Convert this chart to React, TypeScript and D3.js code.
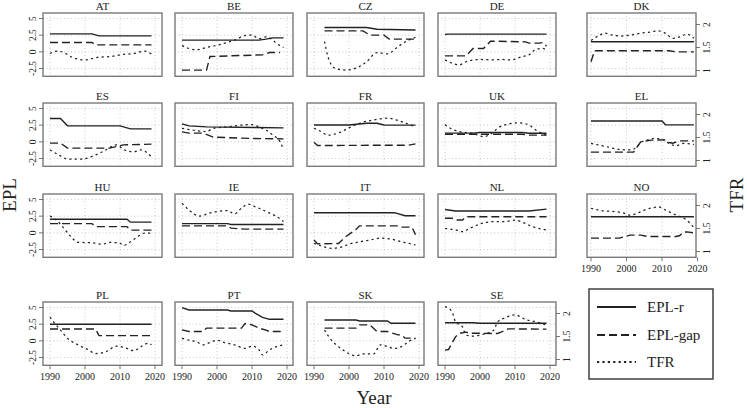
import React from "react";
import * as d3 from "d3";

type P = [number, number][];

// ---- data (year, value) ----
const AT_R: P = [[1990,2.7],[2002,2.7],[2004,2.4],[2019,2.4]];
const AT_G: P = [[1990,1.4],[2002,1.4],[2003,1.05],[2019,1.05]];
const AT_T: P = [[1990,1.37],[1992,1.42],[1994,1.39],[1996,1.30],[2000,1.23],[2004,1.29],[2007,1.30],[2011,1.35],[2014,1.37],[2017,1.42],[2019,1.36]];

const BE_R: P = [[1990,1.75],[2012,1.75],[2014,1.9],[2016,2.1],[2019,2.1]];
const BE_G: P = [[1990,-2.75],[1997,-2.75],[1998,-0.7],[2013,-0.45],[2015,-0.1],[2018,-0.1]];
const BE_T: P = [[1990,1.54],[1994,1.45],[1997,1.50],[2001,1.57],[2005,1.66],[2008,1.76],[2010,1.77],[2012,1.69],[2014,1.73],[2016,1.66],[2017,1.59],[2019,1.50]];

const CZ_R: P = [[1993,3.65],[2005,3.65],[2008,3.38],[2019,3.28]];
const CZ_G: P = [[1993,3.15],[2004,3.15],[2006,2.5],[2010,2.5],[2011.5,1.9],[2019,1.9]];
const CZ_T: P = [[1993,1.63],[1994,1.30],[1995,1.12],[1996,1.05],[1999,1.01],[2002,1.05],[2005,1.19],[2008,1.39],[2011,1.36],[2014,1.52],[2017,1.66],[2019,1.72]];

const DE_R: P = [[1990,2.6],[1991,2.65],[2019,2.65]];
const DE_G: P = [[1990,-0.6],[1996,-0.6],[1998,0.5],[2001,0.5],[2003,1.6],[2013,1.5],[2014,1.3],[2017,1.3],[2018,1.4],[2019,0.85]];
const DE_T: P = [[1990,1.23],[1992,1.16],[1994,1.12],[1996,1.19],[2000,1.24],[2004,1.23],[2006,1.24],[2009,1.23],[2012,1.30],[2014,1.34],[2016,1.46],[2018,1.48],[2019,1.43]];

const DK_R: P = [[1990,1.52],[2019,1.52]];
const DK_G: P = [[1990,-1.5],[1991,0.17],[2012,0.17],[2014,0.0],[2019,0.0]];
const DK_T: P = [[1990,1.65],[1992,1.75],[1994,1.81],[1996,1.77],[1999,1.75],[2001,1.77],[2004,1.81],[2007,1.84],[2009,1.86],[2011,1.81],[2013,1.70],[2015,1.73],[2017,1.79],[2019,1.70]];

const ES_R: P = [[1990,3.5],[1993,3.5],[1995,2.4],[2010,2.4],[2013,1.95],[2019,1.95]];
const ES_G: P = [[1990,-0.2],[1993,-0.2],[1995,-0.95],[2007,-0.95],[2011,-0.45],[2019,-0.35]];
const ES_T: P = [[1990,1.23],[1993,1.10],[1995,1.03],[1999,1.03],[2003,1.12],[2006,1.23],[2009,1.34],[2011,1.24],[2014,1.19],[2016,1.23],[2019,1.08]];

const FI_R: P = [[1990,2.7],[1992,2.4],[1997,2.25],[2019,2.1]];
const FI_G: P = [[1990,1.5],[1992,1.3],[1996,1.3],[1999,0.7],[2010,0.5],[2019,0.45]];
const FI_T: P = [[1990,1.70],[1993,1.66],[1997,1.63],[1999,1.70],[2003,1.73],[2007,1.77],[2010,1.78],[2012,1.73],[2014,1.66],[2016,1.55],[2018,1.41],[2019,1.24]];

const FR_R: P = [[1990,2.53],[2000,2.53],[2005,2.78],[2008,2.78],[2010,2.53],[2019,2.5]];
const FR_G: P = [[1990,-0.07],[1991,-0.55],[2017,-0.5],[2019,-0.3]];
const FR_T: P = [[1990,1.70],[1992,1.63],[1994,1.55],[1997,1.60],[2000,1.71],[2003,1.81],[2007,1.88],[2011,1.92],[2014,1.87],[2017,1.79],[2019,1.73]];

const UK_R: P = [[1990,1.3],[1998,1.3],[2000,1.4],[2012,1.4],[2014,1.28],[2019,1.28]];
const UK_G: P = [[1990,1.13],[2012,1.13],[2014,1.0],[2019,1.0]];
const UK_T: P = [[1990,1.78],[1992,1.68],[1994,1.63],[1998,1.59],[2001,1.52],[2004,1.63],[2005,1.70],[2008,1.79],[2011,1.82],[2014,1.77],[2016,1.66],[2019,1.55]];

const EL_R: P = [[1990,3.13],[2010,3.13],[2011,2.55],[2019,2.55]];
const EL_G: P = [[1990,-1.55],[2002,-1.55],[2004,0.0],[2007,0.25],[2011,0.3],[2012,-0.1],[2013,-0.2],[2015,0.15],[2019,0.15]];
const EL_T: P = [[1990,1.37],[1992,1.34],[1995,1.29],[1998,1.24],[2001,1.23],[2003,1.30],[2004,1.39],[2006,1.45],[2008,1.48],[2010,1.46],[2012,1.37],[2014,1.32],[2016,1.37],[2019,1.35]];

const HU_R: P = [[1990,2.03],[2012,2.03],[2013,1.6],[2019,1.6]];
const HU_G: P = [[1990,1.38],[2002,1.38],[2003,0.93],[2012,0.93],[2013,0.4],[2019,0.4]];
const HU_T: P = [[1990,1.77],[1992,1.67],[1994,1.50],[1996,1.32],[1998,1.20],[2002,1.19],[2005,1.16],[2007,1.20],[2010,1.18],[2011,1.13],[2013,1.21],[2015,1.32],[2017,1.40],[2019,1.40]];

const IE_R: P = [[1990,1.38],[2003,1.38],[2004,1.25],[2019,1.25]];
const IE_G: P = [[1990,1.05],[2003,1.05],[2004,0.7],[2008,0.55],[2019,0.55]];
const IE_T: P = [[1990,2.05],[1992,1.90],[1995,1.77],[1998,1.84],[2000,1.87],[2003,1.89],[2005,1.82],[2007,1.94],[2009,2.03],[2010,2.0],[2012,1.94],[2014,1.87],[2017,1.76],[2019,1.65]];

const IT_R: P = [[1990,3.02],[2013,3.02],[2016,2.57],[2019,2.57]];
const IT_G: P = [[1990,-1.08],[1991,-1.65],[1997,-1.6],[1999,-0.6],[2002,0.5],[2003,1.05],[2014,1.05],[2015,0.85],[2018,0.85],[2019,-0.3]];
const IT_T: P = [[1990,1.18],[1992,1.12],[1995,1.07],[1998,1.10],[2000,1.16],[2003,1.21],[2006,1.25],[2009,1.29],[2012,1.27],[2015,1.21],[2017,1.18],[2019,1.14]];

const NL_R: P = [[1990,3.5],[1993,3.28],[2014,3.28],[2019,3.55]];
const NL_G: P = [[1990,2.18],[1992,2.18],[1993,1.93],[1995,1.93],[1996,2.42],[2019,2.42]];
const NL_T: P = [[1990,1.50],[1993,1.47],[1995,1.43],[1997,1.50],[2000,1.60],[2004,1.65],[2007,1.65],[2010,1.68],[2013,1.61],[2015,1.54],[2019,1.47]];

const NO_R: P = [[1990,2.42],[2019,2.42]];
const NO_G: P = [[1990,-0.8],[1998,-0.8],[2001,-0.35],[2004,-0.35],[2006,-0.55],[2014,-0.55],[2015,-0.4],[2016,0.1],[2017,0.15],[2019,0.0]];
const NO_T: P = [[1990,1.94],[1993,1.89],[1996,1.87],[1999,1.84],[2001,1.79],[2003,1.83],[2005,1.90],[2008,1.96],[2009,1.97],[2011,1.90],[2014,1.79],[2017,1.68],[2019,1.52]];

const PL_R: P = [[1990,2.48],[2019,2.48]];
const PL_G: P = [[1990,1.78],[2003,1.78],[2004,0.78],[2019,0.78]];
const PL_T: P = [[1990,1.92],[1991,1.82],[1993,1.64],[1995,1.46],[1998,1.32],[2001,1.21],[2003,1.13],[2006,1.17],[2009,1.29],[2012,1.24],[2014,1.19],[2016,1.28],[2018,1.35],[2019,1.32]];

const PT_R: P = [[1990,4.97],[1992,4.63],[2003,4.63],[2004,4.48],[2010,4.48],[2011,4.13],[2013,3.53],[2015,3.23],[2019,3.23]];
const PT_G: P = [[1990,1.65],[1992,1.4],[1996,1.4],[1997,1.9],[2007,1.9],[2008,2.6],[2010,2.4],[2012,1.9],[2014,1.6],[2015,1.4],[2019,1.4]];
const PT_T: P = [[1990,1.46],[1992,1.42],[1994,1.39],[1996,1.32],[1998,1.37],[2000,1.42],[2002,1.37],[2005,1.32],[2008,1.24],[2010,1.29],[2012,1.21],[2013,1.10],[2015,1.21],[2017,1.28],[2019,1.32]];

const SK_R: P = [[1993,3.13],[2002,3.13],[2003,2.98],[2011,2.98],[2012,2.63],[2019,2.63]];
const SK_G: P = [[1993,1.9],[2002,1.9],[2003,2.4],[2006,2.4],[2008,1.4],[2011,1.4],[2012,1.2],[2014,0.9],[2015,0.9],[2016,0.4],[2019,0.4]];
const SK_T: P = [[1993,1.64],[1995,1.42],[1997,1.28],[1999,1.17],[2002,1.08],[2004,1.12],[2007,1.12],[2009,1.32],[2011,1.28],[2013,1.24],[2015,1.28],[2017,1.39],[2019,1.46]];

const SE_R: P = [[1990,2.72],[1998,2.72],[2000,2.63],[2019,2.63]];
const SE_G: P = [[1990,-1.4],[1991,-1.3],[1993,0.6],[1994,1.1],[1996,1.3],[1997,1.15],[2005,1.1],[2006,1.3],[2008,1.8],[2019,1.75]];
const SE_T: P = [[1990,2.15],[1992,2.04],[1993,1.82],[1995,1.71],[1996,1.53],[1998,1.51],[2001,1.55],[2004,1.64],[2005,1.82],[2007,1.90],[2010,1.97],[2013,1.87],[2016,1.82],[2019,1.75]];

const COUNTRIES = ["AT","BE","CZ","DE","DK","ES","FI","FR","UK","EL","HU","IE","IT","NL","NO","PL","PT","SK","SE"];
const EPL_TICKS = [-2.5, 0, 2.5, 5];
const TFR_TICKS = [1, 1.5, 2];
const YEAR_TICKS = [1990, 2000, 2010, 2020];
const LEGEND_LABELS = ["EPL-r", "EPL-gap", "TFR"];

const DATA: Record<string, { r: P; g: P; t: P }> = {
  AT: { r: AT_R, g: AT_G, t: AT_T }, BE: { r: BE_R, g: BE_G, t: BE_T },
  CZ: { r: CZ_R, g: CZ_G, t: CZ_T }, DE: { r: DE_R, g: DE_G, t: DE_T },
  DK: { r: DK_R, g: DK_G, t: DK_T }, ES: { r: ES_R, g: ES_G, t: ES_T },
  FI: { r: FI_R, g: FI_G, t: FI_T }, FR: { r: FR_R, g: FR_G, t: FR_T },
  UK: { r: UK_R, g: UK_G, t: UK_T }, EL: { r: EL_R, g: EL_G, t: EL_T },
  HU: { r: HU_R, g: HU_G, t: HU_T }, IE: { r: IE_R, g: IE_G, t: IE_T },
  IT: { r: IT_R, g: IT_G, t: IT_T }, NL: { r: NL_R, g: NL_G, t: NL_T },
  NO: { r: NO_R, g: NO_G, t: NO_T }, PL: { r: PL_R, g: PL_G, t: PL_T },
  PT: { r: PT_R, g: PT_G, t: PT_T }, SK: { r: SK_R, g: SK_G, t: SK_T },
  SE: { r: SE_R, g: SE_G, t: SE_T },
};

// ---- layout ----
const W = 747, H = 408;
const ROW_TOP = [13, 103, 194, 302];
const PH = 63.3;
const COL_LEFT = [43, 175, 307, 438, 587];
const COL_W = [119, 118, 117, 118, 109];
const FONT = '"Liberation Serif", "DejaVu Serif", "Times New Roman", serif';
const INK = "#222";
const DASH = "8,4";
const DOT = "2.2,3.2";
const txt = (size: number): React.CSSProperties => ({ fontFamily: FONT, fontSize: size + "px" });

function Panel({ name, i }: { name: string; i: number }) {
  const row = Math.floor(i / 5), col = i % 5;
  const L = COL_LEFT[col], T = ROW_TOP[row], w = COL_W[col];
  const R = L + w, B = T + PH;
  const x = d3.scaleLinear().domain([1990, 2020]).range(col < 4 ? [L + 7, L + 112] : [L + 4, L + 110.5]);
  const yE = d3.scaleLinear().domain([-2.5, 5]).range([T + 55.5, T + 5.5]);
  const yT = d3.scaleLinear().domain([1, 2]).range([T + 57.5, T + 11.5]);
  const lineE = d3.line<[number, number]>().x((d) => x(d[0])).y((d) => yE(d[1]));
  const lineT = d3.line<[number, number]>().x((d) => x(d[0])).y((d) => yT(d[1])).curve(d3.curveMonotoneX);
  const showLeft = col === 0;
  const showRight = col === 4 || name === "SE";
  const showX = row === 3 || name === "NO";
  const d = DATA[name];
  const clipId = "clip-" + name;
  return (
    <g>
      <defs>
        <clipPath id={clipId}>
          <rect x={L} y={T} width={w} height={PH} />
        </clipPath>
      </defs>
      <rect x={L} y={T} width={w} height={PH} fill="#fff" />
      <g stroke="#bdbdbd" strokeWidth={0.8} strokeDasharray="1,2.5" clipPath={`url(#${clipId})`}>
        {YEAR_TICKS.filter((yr) => x(yr) > L && x(yr) < R).map((yr) => (
          <line key={"v" + yr} x1={x(yr)} x2={x(yr)} y1={T} y2={B} />
        ))}
        {EPL_TICKS.map((v) => (
          <line key={"h" + v} x1={L} x2={R} y1={yE(v)} y2={yE(v)} />
        ))}
      </g>
      <g fill="none" stroke={INK} strokeWidth={1.4} clipPath={`url(#${clipId})`}>
        <path d={lineE(d.r) || ""} />
        <path d={lineE(d.g) || ""} strokeDasharray={DASH} />
        <path d={lineT(d.t) || ""} strokeDasharray={DOT} strokeWidth={1.25} />
      </g>
      <rect x={L} y={T} width={w} height={PH} fill="none" stroke="#7a7a7a" strokeWidth={1.4} />
      <text x={(L + R) / 2} y={T - 3} textAnchor="middle" style={txt(11)} fill={INK}>
        {name}
      </text>
      {showLeft && (
        <g>
          {EPL_TICKS.map((v) => (
            <g key={"l" + v}>
              <line x1={L - 4} x2={L} y1={yE(v)} y2={yE(v)} stroke="#555" strokeWidth={0.8} />
              <text transform={`translate(${L - 7.5},${yE(v)}) rotate(-90)`} textAnchor="middle" style={txt(9.5)} fill={INK}>
                {String(v)}
              </text>
            </g>
          ))}
        </g>
      )}
      {showRight && (
        <g>
          {TFR_TICKS.map((v) => (
            <g key={"r" + v}>
              <line x1={R} x2={R + 4} y1={yT(v)} y2={yT(v)} stroke="#555" strokeWidth={0.8} />
              <text transform={`translate(${R + 14},${yT(v)}) rotate(-90)`} textAnchor="middle" style={txt(9.5)} fill={INK}>
                {String(v)}
              </text>
            </g>
          ))}
        </g>
      )}
      {showX && (
        <g>
          {YEAR_TICKS.map((yr) => (
            <g key={"x" + yr}>
              <line x1={x(yr)} x2={x(yr)} y1={B} y2={B + 4} stroke="#555" strokeWidth={0.8} />
              <text x={x(yr)} y={B + 15} textAnchor="middle" style={txt(10)} fill={INK}>
                {yr}
              </text>
            </g>
          ))}
        </g>
      )}
    </g>
  );
}

export default function App() {
  const legX = 589, legY = 289, legW = 124, legH = 90;
  const rows = [307, 335, 362];
  const styles = [undefined, DASH, DOT];
  return (
    <svg width={W} height={H} viewBox={`0 0 ${W} ${H}`} style={{ position: "absolute", left: 0, top: 0, background: "#fff" }}>
      <rect x={0} y={0} width={W} height={H} fill="#fff" />
      {COUNTRIES.map((c, i) => (
        <Panel key={c} name={c} i={i} />
      ))}
      <text transform="translate(16,195) rotate(-90)" textAnchor="middle" style={txt(19)} fill={INK}>
        EPL
      </text>
      <text transform="translate(743,195) rotate(-90)" textAnchor="middle" style={txt(19)} fill={INK}>
        TFR
      </text>
      <text x={374} y={404} textAnchor="middle" style={txt(19)} fill={INK}>
        Year
      </text>
      <rect x={legX} y={legY} width={legW} height={legH} fill="#fff" stroke="#333" strokeWidth={1.4} />
      {LEGEND_LABELS.map((lab, k) => (
        <g key={lab}>
          <line x1={597} x2={636} y1={rows[k]} y2={rows[k]} stroke={INK} strokeWidth={1.8} strokeDasharray={styles[k]} />
          <text x={647} y={rows[k] + 5} style={txt(15)} fill={INK}>
            {lab}
          </text>
        </g>
      ))}
    </svg>
  );
}
